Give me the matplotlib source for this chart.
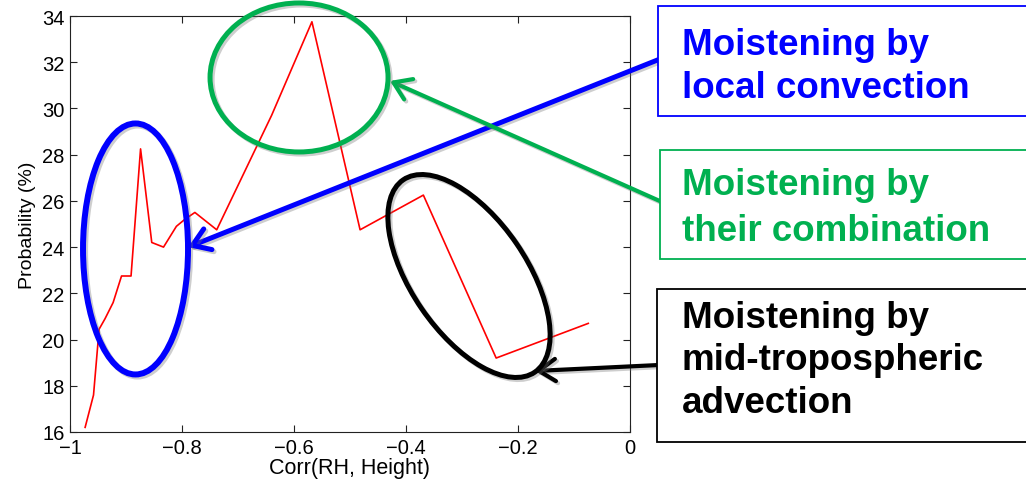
import matplotlib
matplotlib.use("Agg")
import matplotlib.pyplot as plt
import matplotlib.patheffects as pe
from matplotlib.patches import Ellipse, Rectangle
from matplotlib.transforms import ScaledTranslation

plt.rcParams["font.family"] = ["Liberation Sans", "DejaVu Sans"]

# probability of each RH/height correlation bin
corr = [-0.973, -0.958, -0.948, -0.9375, -0.923, -0.908, -0.891, -0.874,
        -0.854, -0.833, -0.810, -0.795, -0.777, -0.738, -0.640, -0.568,
        -0.482, -0.369, -0.239, -0.0745]
prob = [16.2, 17.6, 20.45, 20.9, 21.6, 22.75, 22.75, 28.25,
        24.2, 24.0, 24.9, 25.2, 25.5, 24.75, 29.7, 33.75,
        24.75, 26.25, 19.2, 20.7]

x_ticks = [-1, -0.8, -0.6, -0.4, -0.2, 0]
y_ticks = [16, 18, 20, 22, 24, 26, 28, 30, 32, 34]

W, H = 1026, 481
GREEN = "#00B050"
BLUE = "#0000FF"


def fx(px):
    return px / W


def fy(py):
    return 1 - py / H


fig = plt.figure(figsize=(W / 100, H / 100), dpi=100)
fig.subplots_adjust(left=fx(70), right=fx(630), bottom=fy(433), top=fy(17))
ax = fig.add_subplot(111)

ax.plot(corr, prob, color="red", lw=1.2)
ax.set_xlim(-1, 0)
ax.set_ylim(16, 34)
ax.set_xticks(x_ticks)
ax.set_xticklabels(["\u22121", "\u22120.8", "\u22120.6", "\u22120.4", "\u22120.2", "0"])
ax.set_yticks(y_ticks)
ax.tick_params(direction="in", length=5, width=0.8, top=True, right=True,
               labelsize=14.5, pad=4, colors="#222222", labelcolor="black")
for s in ax.spines.values():
    s.set_linewidth(0.8)
    s.set_color("#222222")
ax.set_xlabel("Corr(RH, Height)", fontsize=15.5, labelpad=0)
ax.set_ylabel("Probability (%)", fontsize=14, labelpad=4)

shadow = [pe.SimpleLineShadow(offset=(1.5, -1.5), shadow_color="0.45", alpha=0.35),
          pe.Normal()]


def ring(cx, cy, w_px, h_px, angle, color, lw):
    tr = fig.dpi_scale_trans + ScaledTranslation(cx, cy, ax.transData)
    e = Ellipse((0, 0), w_px / 100, h_px / 100, angle=angle, transform=tr,
                fill=False, edgecolor=color, lw=lw, zorder=5)
    e.set_path_effects(shadow)
    fig.add_artist(e)


ring(-0.883, 23.92, 105, 251, 0, BLUE, 4.3)
ring(-0.591, 31.34, 178, 149, 0, GREEN, 3.6)
ring(-0.2875, 22.75, 233, 115, -55.6, "black", 3.6)


def pointer(tip, tail_px, color, lw):
    a = ax.annotate("", xy=tip, xycoords="data",
                    xytext=(fx(tail_px[0]), fy(tail_px[1])), textcoords="figure fraction",
                    annotation_clip=False,
                    arrowprops=dict(arrowstyle="->,head_length=0.6,head_width=0.4",
                                    mutation_scale=20, color=color, lw=lw,
                                    shrinkA=0, shrinkB=0))
    a.arrow_patch.set_path_effects(shadow)
    a.set_zorder(6)


pointer((-0.789, 24.0), (660, 60), BLUE, 3.6)
pointer((-0.4286, 31.19), (662, 203), GREEN, 3.0)
pointer((-0.1696, 18.64), (659, 366), "black", 3.0)

boxes = [
    (658, 7, 117, BLUE, ["Moistening by", "local convection"], [55, 98]),
    (660, 151, 260, GREEN, ["Moistening by", "their combination"], [195, 241]),
    (657, 290, 443, "black", ["Moistening by", "mid-tropospheric", "advection"],
     [328, 370, 413]),
]
for left, top, bottom, color, lines, baselines in boxes:
    fig.add_artist(Rectangle((fx(left), fy(bottom)), fx(W + 20 - left),
                             (bottom - top) / H, transform=fig.transFigure,
                             facecolor="white", edgecolor=color, lw=1.3, zorder=7))
    for line, base in zip(lines, baselines):
        fig.text(fx(682), fy(base), line, color=color, fontsize=26.5,
                 fontweight="bold", va="baseline", ha="left", zorder=8)

fig.savefig("out.png", dpi=100)
